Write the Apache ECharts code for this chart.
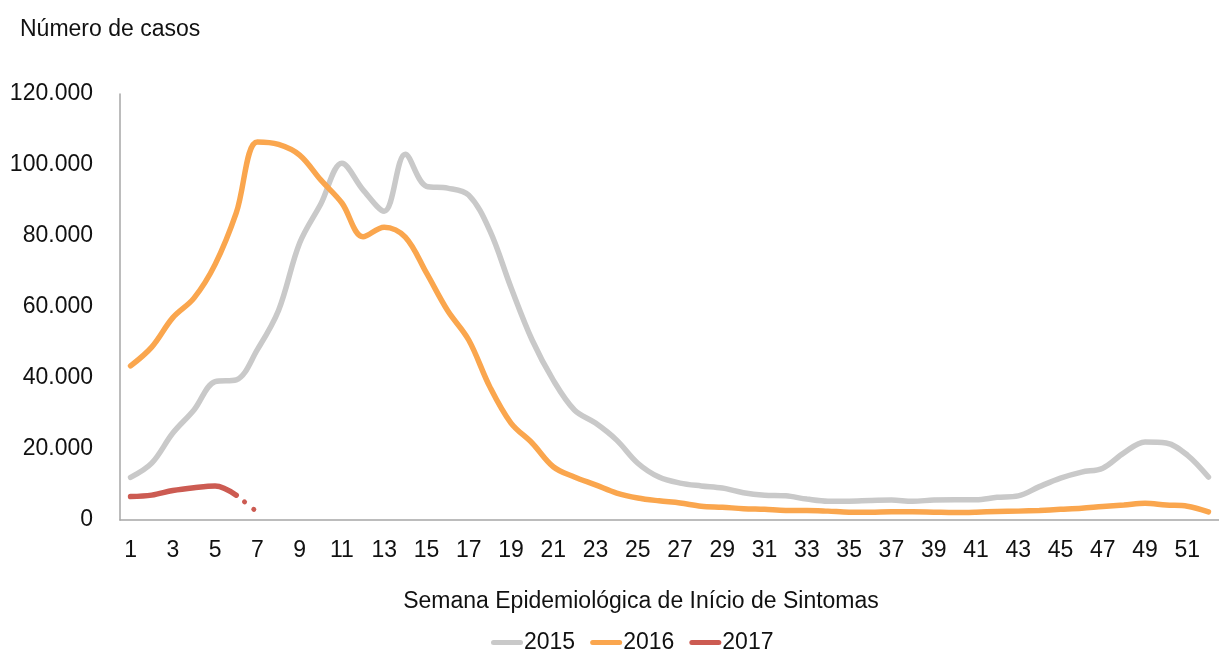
<!DOCTYPE html>
<html>
<head>
<meta charset="utf-8">
<script src="https://cdn.jsdelivr.net/npm/echarts@6/dist/echarts.min.js"></script>
<style>
  html, body { margin: 0; padding: 0; background: #fff; }
  #chart { width: 1219px; height: 659px; }
</style>
</head>
<body>
<div id="chart"></div>
<script>
// semanas epidemiológicas 1..52
var weeks = [];
for (var w = 1; w <= 52; w++) weeks.push(String(w));

// casos por semana
var cases2015 = [12000, 16000, 24500, 31000, 39000, 39500, 48000, 59000, 78000, 89000,
  100500, 93000, 87000, 103000, 94000, 93500, 91500, 81500, 65500, 50700,
  39400, 31000, 27300, 22500, 16000, 12100, 10400, 9600, 9000, 7700,
  7000, 6800, 5900, 5300, 5300, 5500, 5600, 5300, 5600, 5700,
  5700, 6400, 6800, 9400, 11800, 13500, 14600, 18900, 22000, 21700,
  18300, 12100];
var cases2016 = [43400, 48700, 57000, 62500, 72000, 86500, 106500, 105800, 102800, 95800,
  89300, 79800, 82500, 79700, 69600, 59000, 50700, 37500, 27300, 21700,
  15000, 12100, 9900, 7600, 6200, 5400, 4800, 3900, 3600, 3200,
  3000, 2700, 2700, 2500, 2200, 2200, 2300, 2300, 2200, 2100,
  2200, 2400, 2500, 2700, 3000, 3300, 3800, 4200, 4700, 4200,
  3900, 2300];
var cases2017 = [6600, 7000, 8300, 9100, 9600, 7000, 2200];
// a partir deste índice o dado é provisório (linha pontilhada)
var provisionalFrom = 5;

var yTicks = [0, 20000, 40000, 60000, 80000, 100000, 120000];

var colors = { y2015: '#c9c9c9', y2016: '#faa64e', y2017: '#cc5b52' };

var solid2017 = cases2017.slice(0, provisionalFrom + 1);
var dotted2017 = cases2017.map(function (v, i) { return i >= provisionalFrom ? v : null; });

var myChart = echarts.init(document.getElementById('chart'));
var textFont = 'Liberation Sans, Arial, sans-serif';
var fs = 23;

var option = {
  animation: false,
  textStyle: { fontFamily: textFont },
  title: {
    text: 'Número de casos',
    left: 15,
    top: 13,
    textStyle: { fontSize: fs, fontWeight: 'normal', color: '#111', fontFamily: textFont }
  },
  graphic: [{
    type: 'text',
    x: 641,
    y: 602,
    style: {
      text: 'Semana Epidemiológica de Início de Sintomas',
      font: fs + 'px ' + textFont,
      fill: '#111',
      textAlign: 'center',
      textVerticalAlign: 'middle'
    }
  }],
  legend: {
    left: 486,
    top: 626,
    itemGap: 15,
    itemWidth: 32,
    itemHeight: 5,
    icon: 'path://M2.5,0 H29.5 A2.5,2.5 0 0 1 29.5,5 H2.5 A2.5,2.5 0 0 1 2.5,0 Z',
    data: ['2015', '2016', '2017'],
    textStyle: { fontSize: fs, color: '#111', fontFamily: textFont, padding: [0, 0, 0, -4] }
  },
  grid: {
    left: 120,
    top: 94,
    right: -9,
    bottom: 139,
    containLabel: false
  },
  xAxis: {
    type: 'category',
    data: weeks,
    boundaryGap: true,
    axisTick: { show: false },
    axisLine: { lineStyle: { color: '#a6a6a6', width: 1.5 } },
    axisLabel: {
      interval: 1,
      margin: 19,
      fontSize: fs,
      color: '#111',
      fontFamily: textFont
    }
  },
  yAxis: {
    type: 'value',
    min: yTicks[0],
    max: yTicks[yTicks.length - 1],
    interval: yTicks[1] - yTicks[0],
    splitLine: { show: false },
    axisTick: { show: false },
    axisLine: { show: true, lineStyle: { color: '#a6a6a6', width: 1.5 } },
    axisLabel: {
      margin: 27,
      fontSize: fs,
      color: '#111',
      fontFamily: textFont,
      formatter: function (v) {
        return v === 0 ? '0' : String(v).replace(/\B(?=(\d{3})+(?!\d))/g, '.');
      }
    }
  },
  series: [
    {
      name: '2015',
      type: 'line',
      data: cases2015,
      smooth: 0.35,
      symbol: 'none',
      lineStyle: { color: colors.y2015, width: 5.5, cap: 'round' },
      itemStyle: { color: colors.y2015 }
    },
    {
      name: '2016',
      type: 'line',
      data: cases2016,
      smooth: 0.35,
      symbol: 'none',
      lineStyle: { color: colors.y2016, width: 5.5, cap: 'round' },
      itemStyle: { color: colors.y2016 }
    },
    {
      name: '2017',
      type: 'line',
      data: solid2017,
      smooth: 0.35,
      symbol: 'none',
      lineStyle: { color: colors.y2017, width: 5.5, cap: 'round' },
      itemStyle: { color: colors.y2017 }
    },
    {
      name: '2017',
      type: 'line',
      data: dotted2017,
      smooth: false,
      symbol: 'none',
      lineStyle: { color: colors.y2017, width: 5, cap: 'round', type: [0.1, 11.8], dashOffset: 1.3 },
      itemStyle: { color: colors.y2017 }
    }
  ]
};

myChart.setOption(option);
window.addEventListener('resize', function () {
  myChart.resize();
});
</script>
</body>
</html>
